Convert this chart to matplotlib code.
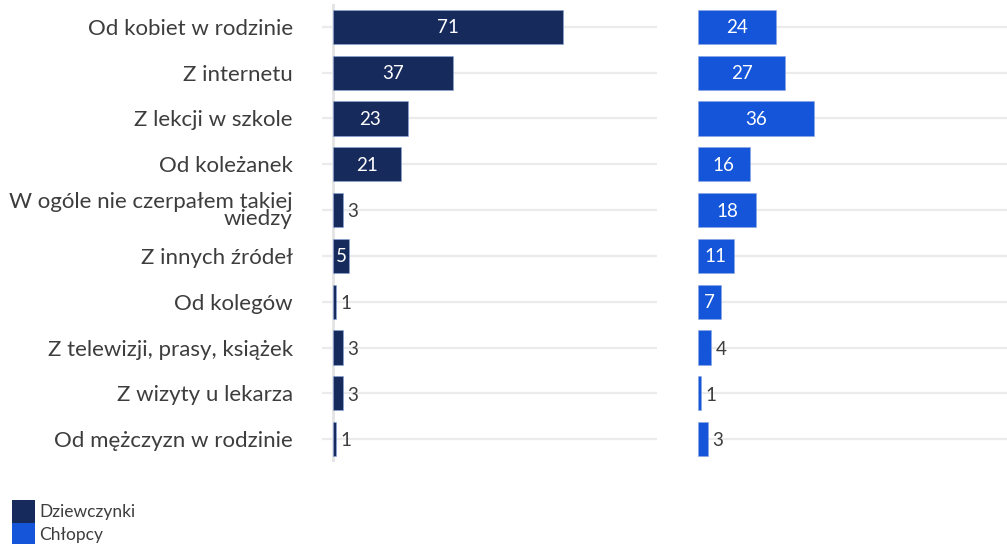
import matplotlib
matplotlib.use("Agg")
import matplotlib.pyplot as plt
from matplotlib.patches import Rectangle

categories = ["Od kobiet w rodzinie", "Z internetu", "Z lekcji w szkole", "Od koleżanek",
              "W ogóle nie czerpałem takiej\nwiedzy", "Z innych źródeł", "Od kolegów",
              "Z telewizji, prasy, książek", "Z wizyty u lekarza", "Od mężczyzn w rodzinie"]
girls = [71, 37, 23, 21, 3, 5, 1, 3, 3, 1]
boys = [24, 27, 36, 16, 18, 11, 7, 4, 1, 3]
series_names = ["Dziewczynki", "Chłopcy"]

C_GIRLS = "#162a5b"
C_BOYS = "#1455d9"
GRID = "#ebebeb"
TXT = "#3d3d3d"

plt.rcParams['font.family'] = ['Lato', 'DejaVu Sans']

W, H = 1007, 544
fig = plt.figure(figsize=(W / 100, H / 100), dpi=100)

bottom = 1 - 462 / H
top = 1 - 4 / H
axL = fig.add_axes([322 / W, bottom, 335 / W, top - bottom])
axR = fig.add_axes([698 / W, bottom, 309 / W, top - bottom])

y = list(range(len(categories)))

def draw(ax, vals, color, xlim):
    ax.set_xlim(*xlim)
    ax.set_ylim(len(categories) - 0.5, -0.5)
    for yi in y:
        ax.axhline(yi, color=GRID, lw=1.6, zorder=0)
    ax.barh(y, vals, height=0.75, color=color, edgecolor="#8aa6e0", linewidth=0.4, zorder=2)
    for yi, v in zip(y, vals):
        if v >= 5:
            ax.text(v / 2, yi + 0.02, str(v), ha="center", va="center", color="white",
                    fontsize=13.5, zorder=3)
        else:
            ax.text(v + 1.4, yi + 0.04, str(v), ha="left", va="center", color=TXT,
                    fontsize=13.5, zorder=3)
    for s in ax.spines.values():
        s.set_visible(False)
    ax.set_xticks([])
    ax.tick_params(left=False, length=0)

draw(axL, girls, C_GIRLS, (-3.4, 100))
axL.axvline(0, color="#e3e3e3", lw=2, zorder=1)
axL.set_yticks(y)
axL.set_yticklabels(categories, fontsize=16, color=TXT, linespacing=0.8)
axL.tick_params(axis="y", pad=21)

draw(axR, boys, C_BOYS, (0, 95.6))
axR.set_yticks([])

# legend
for i, (name, col) in enumerate(zip(series_names, [C_GIRLS, C_BOYS])):
    y0 = 500 + i * 23
    fig.patches.append(Rectangle((12 / W, 1 - (y0 + 23) / H), 23 / W, 23 / H,
                                 transform=fig.transFigure, facecolor=col,
                                 edgecolor="none", figure=fig))
    fig.text(39 / W, 1 - (y0 + 12) / H, name, ha="left", va="center",
             fontsize=12.5, color=TXT)

fig.savefig("out.png", dpi=100)
